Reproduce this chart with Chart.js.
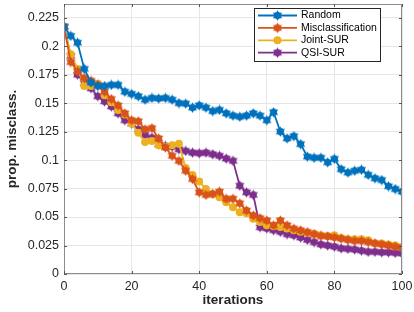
<!DOCTYPE html>
<html>
<head>
<meta charset="utf-8">
<script src="https://cdn.jsdelivr.net/npm/chart.js@4/dist/chart.umd.min.js"></script>
<style>
  html, body { margin: 0; padding: 0; background: #fff; }
  #wrap { width: 414px; height: 312px; position: relative; }
</style>
</head>
<body>
<div id="wrap"><canvas id="myChart" width="414" height="312"></canvas></div>
<script>
// iterations (every 2nd step is marked)
const iterations = [0,2,4,6,8,10,12,14,16,18,20,22,24,26,28,30,32,34,36,38,40,42,44,46,48,50,
  52,54,56,58,60,62,64,66,68,70,72,74,76,78,80,82,84,86,88,90,92,94,96,98,100];

const randomVals = [0.217,0.209,0.203,0.180,0.168,0.165,0.165,0.166,0.166,0.160,0.158,0.156,0.153,0.1545,0.154,0.1545,0.153,0.150,0.1495,0.146,0.148,0.146,0.143,0.144,0.141,0.139,
  0.138,0.139,0.141,0.139,0.135,0.142,0.125,0.119,0.121,0.114,0.103,0.102,0.102,0.098,0.101,0.092,0.089,0.0906,0.0915,0.087,0.084,0.0825,0.077,0.0746,0.0723];

const misclassVals = [0.217,0.186,0.178,0.172,0.1696,0.166,0.160,0.1536,0.148,0.141,0.135,0.134,0.127,0.128,0.119,0.111,0.1037,0.0993,0.0906,0.0834,0.0717,0.0694,0.0703,0.0723,0.066,0.066,
  0.062,0.0557,0.0514,0.049,0.047,0.0427,0.047,0.0427,0.0398,0.0383,0.0368,0.035,0.0334,0.033,0.032,0.031,0.030,0.029,0.029,0.028,0.027,0.026,0.025,0.024,0.023];

const jointVals = [0.217,0.193,0.180,0.165,0.165,0.167,0.157,0.1507,0.144,0.140,0.132,0.124,0.1158,0.1167,0.113,0.1117,0.113,0.1144,0.093,0.087,0.0813,0.0746,0.0703,0.0673,0.063,0.0586,
  0.0543,0.0534,0.0485,0.0456,0.0427,0.042,0.0412,0.040,0.0383,0.037,0.0363,0.0354,0.034,0.0334,0.034,0.0316,0.0305,0.0305,0.0305,0.0296,0.0267,0.0267,0.0258,0.025,0.0238];

const qsiVals = [0.217,0.1914,0.175,0.1675,0.163,0.156,0.1515,0.147,0.141,0.135,0.132,0.127,0.122,0.1196,0.1138,0.1124,0.1118,0.1095,0.108,0.1065,0.106,0.1065,0.1051,0.1037,0.1013,0.0993,
  0.0775,0.0717,0.0694,0.041,0.040,0.0385,0.037,0.035,0.034,0.032,0.030,0.028,0.026,0.025,0.024,0.0225,0.022,0.0215,0.0205,0.0195,0.0195,0.019,0.019,0.0185,0.018];

const seriesNames = ["Random", "Misclassification", "Joint-SUR", "QSI-SUR"];
const seriesColors = ["#0072BD", "#D95319", "#EDB120", "#7E2F8E"];
const yTicks = [0, 0.025, 0.05, 0.075, 0.1, 0.125, 0.15, 0.175, 0.2, 0.225];
const xTicks = [0, 20, 40, 60, 80, 100];

// hexagram marker like matlab 'h'
function makeStar(color) {
  const c = document.createElement('canvas');
  c.width = 11; c.height = 11;
  const g = c.getContext('2d');
  g.fillStyle = color;
  const cx = 5.5, cy = 5.5, r = 5.3;
  for (let k = 0; k < 2; k++) {
    g.beginPath();
    for (let j = 0; j < 3; j++) {
      const a = -Math.PI / 2 + k * Math.PI + j * 2 * Math.PI / 3;
      const px = cx + r * Math.cos(a), py = cy + r * Math.sin(a);
      if (j == 0) g.moveTo(px, py); else g.lineTo(px, py);
    }
    g.closePath();
    g.fill();
  }
  g.beginPath();
  g.arc(cx, cy, 3.4, 0, Math.PI * 2);
  g.fill();
  return c;
}

const allVals = [randomVals, misclassVals, jointVals, qsiVals];
const markers = [makeStar(seriesColors[0]), makeStar(seriesColors[1]), 'circle', makeStar(seriesColors[3])];

const datasets = allVals.map((vals, i) => ({
  label: seriesNames[i],
  data: iterations.map((it, j) => ({x: it, y: vals[j]})),
  borderColor: seriesColors[i],
  backgroundColor: seriesColors[i],
  borderWidth: 1.8,
  pointStyle: markers[i],
  pointRadius: 4,
  pointBorderWidth: 0,
  pointHoverRadius: 4,
  tension: 0
}));

const GRID = '#e6e6e6';
const AXIS = '#8c8c8c';
const TXT = '#262626';
const FONT = '"Liberation Sans", Arial, sans-serif';

// box, inward ticks and legend, matlab style
const frame = {
  id: 'frame',
  afterDatasetsDraw(chart) {
    const ctx = chart.ctx, a = chart.chartArea;
    const xs = chart.scales.x, ys = chart.scales.y;
    ctx.save();
    ctx.strokeStyle = AXIS;
    ctx.lineWidth = 1;
    ctx.strokeRect(a.left + 0.5, a.top + 0.5, a.right - a.left - 1, a.bottom - a.top - 1);
    ctx.strokeStyle = '#555';
    ctx.beginPath();
    xTicks.forEach(t => {
      const px = Math.round(xs.getPixelForValue(t)) + 0.5;
      ctx.moveTo(px, a.bottom); ctx.lineTo(px, a.bottom - 3);
      ctx.moveTo(px, a.top); ctx.lineTo(px, a.top + 3);
    });
    yTicks.forEach(t => {
      const py = Math.round(ys.getPixelForValue(t)) + 0.5;
      ctx.moveTo(a.left, py); ctx.lineTo(a.left + 3, py);
      ctx.moveTo(a.right, py); ctx.lineTo(a.right - 3, py);
    });
    ctx.stroke();

    // legend
    const lx = 254, ly = 8, lw = 126, lh = 53;
    ctx.fillStyle = '#fff';
    ctx.fillRect(lx, ly, lw, lh);
    ctx.strokeStyle = '#262626';
    ctx.strokeRect(lx + 0.5, ly + 0.5, lw, lh);
    ctx.font = '10.5px ' + FONT;
    ctx.textBaseline = 'middle';
    seriesNames.forEach((name, i) => {
      const y = ly + 7.5 + i * 12.4;
      ctx.strokeStyle = seriesColors[i];
      ctx.lineWidth = 1.8;
      ctx.beginPath(); ctx.moveTo(lx + 4, y); ctx.lineTo(lx + 43, y); ctx.stroke();
      const m = markers[i];
      if (m === 'circle') {
        ctx.fillStyle = seriesColors[i];
        ctx.beginPath(); ctx.arc(lx + 23.5, y, 4, 0, Math.PI * 2); ctx.fill();
      } else {
        ctx.drawImage(m, lx + 18, y - 5.5);
      }
      ctx.fillStyle = '#000';
      ctx.fillText(name, lx + 47, y);
    });
    ctx.restore();
  }
};

new Chart(document.getElementById('myChart'), {
  type: 'line',
  data: { datasets },
  plugins: [frame],
  options: {
    responsive: false,
    animation: false,
    events: [],
    layout: { padding: { top: 2, right: 12, left: 4, bottom: 4 } },
    plugins: { legend: { display: false }, tooltip: { enabled: false } },
    scales: {
      x: {
        type: 'linear', min: 0, max: 100,
        afterBuildTicks: s => { s.ticks = xTicks.map(v => ({value: v})); },
        afterFit: s => { s.height = 34; s.paddingLeft = 0; s.paddingRight = 0; },
        grid: { color: GRID, drawTicks: false, lineWidth: 1 },
        border: { display: false },
        ticks: { color: TXT, padding: 5, maxRotation: 0, font: { family: FONT, size: 12.5 } },
        title: { display: true, text: 'iterations', color: TXT, padding: { top: 1, bottom: 0 },
          font: { family: FONT, size: 13.5, weight: 'bold' } }
      },
      y: {
        min: 0, max: 0.237,
        afterBuildTicks: s => { s.ticks = yTicks.map(v => ({value: v})); },
        afterFit: s => { s.width = 60; s.paddingTop = 0; s.paddingBottom = 0; },
        grid: { color: GRID, drawTicks: false, lineWidth: 1 },
        border: { display: false },
        ticks: { color: TXT, padding: 5,
          callback: v => String(Number(v.toFixed(3))),
          font: { family: FONT, size: 12.5 } },
        title: { display: true, text: 'prop. misclass.', color: TXT, padding: { top: 0, bottom: 0 },
          font: { family: FONT, size: 13.5, weight: 'bold' } }
      }
    }
  }
});
</script>
</body>
</html>
